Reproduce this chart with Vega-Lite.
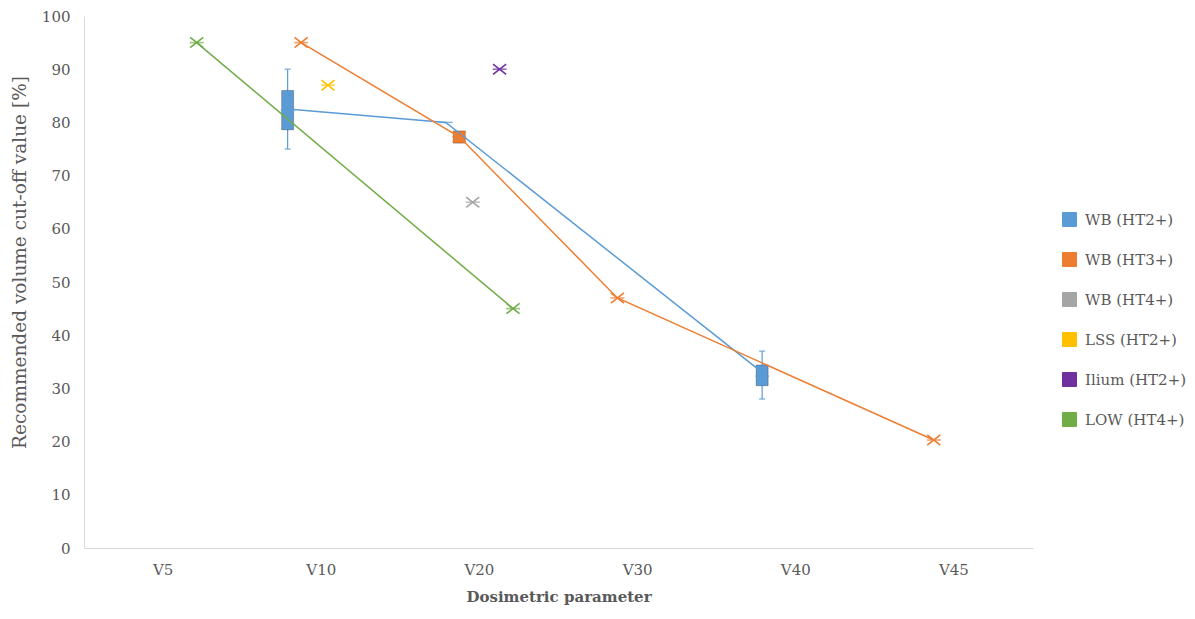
{
  "$schema": "https://vega.github.io/schema/vega-lite/v6.json",
  "width": 949,
  "height": 532,
  "autosize": "none",
  "padding": {"left": 84, "top": 16, "right": 162, "bottom": 71},
  "background": "white",
  "config": {
    "font": "DejaVu Serif",
    "view": {"stroke": null},
    "axis": {
      "domainColor": "#D9D9D9",
      "ticks": false,
      "grid": false,
      "labelColor": "#595959",
      "titleColor": "#595959",
      "labelFontSize": 15,
      "titleFontSize": 15
    },
    "legend": {
      "labelColor": "#595959",
      "labelFontSize": 15
    }
  },
  "data": {
    "values": [
      {"param": "V5", "series": "LOW (HT4+)", "lo": 95, "q1": 95, "med": 95, "q3": 95, "hi": 95, "mean": 95},
      {"param": "V10", "series": "WB (HT2+)", "lo": 75, "q1": 78.6, "med": 82.3, "q3": 86, "hi": 90, "mean": 82.5},
      {"param": "V10", "series": "WB (HT3+)", "lo": 95, "q1": 95, "med": 95, "q3": 95, "hi": 95, "mean": 95},
      {"param": "V10", "series": "LSS (HT2+)", "lo": 87, "q1": 87, "med": 87, "q3": 87, "hi": 87, "mean": 87},
      {"param": "V20", "series": "WB (HT2+)", "lo": 80, "q1": 80, "med": 80, "q3": 80, "hi": 80, "mean": 80},
      {"param": "V20", "series": "WB (HT3+)", "lo": 76.1, "q1": 76.1, "med": 77.3, "q3": 78.4, "hi": 78.4, "mean": 77.3},
      {"param": "V20", "series": "WB (HT4+)", "lo": 65, "q1": 65, "med": 65, "q3": 65, "hi": 65, "mean": 65},
      {"param": "V20", "series": "Ilium (HT2+)", "lo": 90, "q1": 90, "med": 90, "q3": 90, "hi": 90, "mean": 90},
      {"param": "V20", "series": "LOW (HT4+)", "lo": 45, "q1": 45, "med": 45, "q3": 45, "hi": 45, "mean": 45},
      {"param": "V30", "series": "WB (HT3+)", "lo": 47, "q1": 47, "med": 47, "q3": 47, "hi": 47, "mean": 47},
      {"param": "V40", "series": "WB (HT2+)", "lo": 28, "q1": 30.5, "med": 32.3, "q3": 34.4, "hi": 37, "mean": 33},
      {"param": "V45", "series": "WB (HT3+)", "lo": 20.3, "q1": 20.3, "med": 20.3, "q3": 20.3, "hi": 20.3, "mean": 20.3}
    ]
  },
  "encoding": {
    "x": {
      "field": "param",
      "type": "nominal",
      "sort": ["V5", "V10", "V20", "V30", "V40", "V45"],
      "scale": {"domain": ["V5", "V10", "V20", "V30", "V40", "V45"], "paddingInner": 0.49, "paddingOuter": 0.245},
      "axis": {"title": "Dosimetric parameter", "labelAngle": 0, "labelPadding": 14, "titlePadding": 12, "titleFontWeight": "bold"}
    },
    "xOffset": {
      "field": "series",
      "type": "nominal",
      "scale": {"domain": ["WB (HT2+)", "WB (HT3+)", "WB (HT4+)", "LSS (HT2+)", "Ilium (HT2+)", "LOW (HT4+)"]}
    },
    "color": {
      "field": "series",
      "type": "nominal",
      "scale": {
        "domain": ["WB (HT2+)", "WB (HT3+)", "WB (HT4+)", "LSS (HT2+)", "Ilium (HT2+)", "LOW (HT4+)"],
        "range": ["#5B9BD5", "#ED7D31", "#A5A5A5", "#FFC000", "#7030A0", "#70AD47"]
      },
      "legend": {
        "title": null,
        "orient": "none",
        "legendX": 978,
        "legendY": 196,
        "symbolType": "square",
        "symbolSize": 196,
        "symbolStrokeColor": "rgba(0,0,0,0.25)",
        "symbolStrokeWidth": 1,
        "symbolOpacity": 1,
        "rowPadding": 21,
        "labelOffset": 8
      }
    }
  },
  "layer": [
    {
      "mark": {"type": "rule", "strokeWidth": 1.2},
      "encoding": {
        "y": {"field": "lo", "type": "quantitative", "scale": {"domain": [0, 100], "nice": false}, "axis": {"title": "Recommended volume cut-off value [%]", "values": [0,10,20,30,40,50,60,70,80,90,100], "labelPadding": 14, "titlePadding": 12, "titleFontSize": 18.5, "titleY": 246, "titleFontWeight": "normal"}},
        "y2": {"field": "hi"}
      }
    },
    {
      "transform": [{"filter": "datum.hi > datum.q3"}],
      "mark": {"type": "tick", "size": 6, "thickness": 1.5, "orient": "horizontal"},
      "encoding": {"y": {"field": "hi", "type": "quantitative"}}
    },
    {
      "transform": [{"filter": "datum.lo < datum.q1"}],
      "mark": {"type": "tick", "size": 6, "thickness": 1.5, "orient": "horizontal"},
      "encoding": {"y": {"field": "lo", "type": "quantitative"}}
    },
    {
      "transform": [{"filter": "datum.q3 > datum.q1"}],
      "mark": {"type": "bar", "width": 12, "stroke": "#000000", "strokeOpacity": 0.25, "strokeWidth": 1, "opacity": 1},
      "encoding": {
        "y": {"field": "q1", "type": "quantitative"},
        "y2": {"field": "q3"}
      }
    },
    {
      "mark": {"type": "tick", "size": 14, "thickness": 1.6, "orient": "horizontal"},
      "encoding": {"y": {"field": "med", "type": "quantitative"}}
    },
    {
      "transform": [{"filter": "datum.series === 'WB (HT2+)' || datum.series === 'WB (HT3+)' || datum.series === 'LOW (HT4+)'"}],
      "mark": {"type": "line", "strokeWidth": 1.5},
      "encoding": {"y": {"field": "mean", "type": "quantitative"}}
    },
    {
      "transform": [{"filter": "datum.series !== 'WB (HT2+)'"}],
      "mark": {"type": "point", "shape": "M-1.15,-0.9L1.15,0.9M-1.15,0.9L1.15,-0.9", "filled": false, "size": 130, "strokeWidth": 1.6, "opacity": 1},
      "encoding": {"y": {"field": "mean", "type": "quantitative"}}
    }
  ]
}
